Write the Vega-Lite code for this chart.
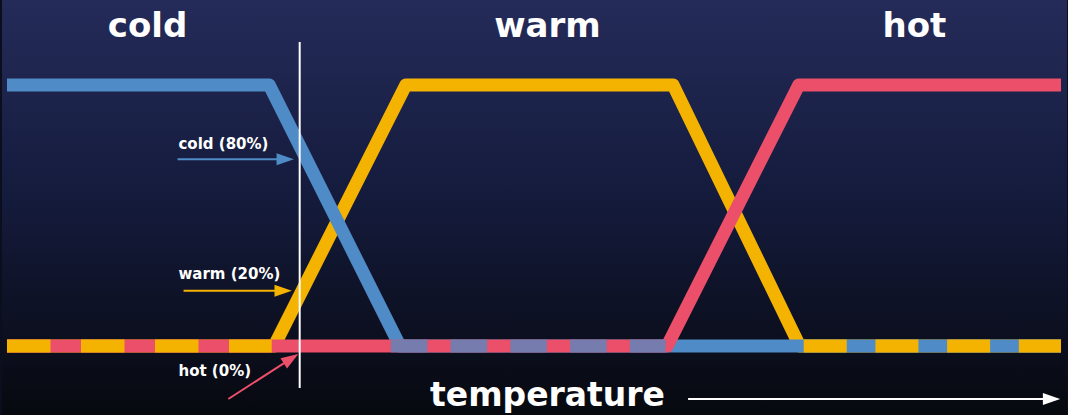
{
  "$schema": "https://vega.github.io/schema/vega-lite/v6.json",
  "width": 1068,
  "height": 415,
  "autosize": {"type": "fit", "contains": "padding"},
  "padding": 0,
  "background": "#0b0e1c",
  "config": {
    "view": {
      "stroke": null,
      "fill": {
        "gradient": "linear", "x1": 0, "y1": 0, "x2": 0, "y2": 1,
        "stops": [
          {"offset": 0, "color": "#242b59"},
          {"offset": 0.5, "color": "#141a3a"},
          {"offset": 1, "color": "#07090f"}
        ]
      }
    }
  },
  "datasets": {
    "curves": [
      {"set": "warm", "t": 0, "m": 0},
      {"set": "warm", "t": 25.35, "m": 0},
      {"set": "warm", "t": 37.84, "m": 1},
      {"set": "warm", "t": 63.2, "m": 1},
      {"set": "warm", "t": 75.21, "m": 0},
      {"set": "warm", "t": 100, "m": 0},
      {"set": "cold", "t": 0, "m": 1},
      {"set": "cold", "t": 24.88, "m": 1},
      {"set": "cold", "t": 37.28, "m": 0},
      {"set": "cold", "t": 100, "m": 0},
      {"set": "hot", "t": 0, "m": 0},
      {"set": "hot", "t": 62.63, "m": 0},
      {"set": "hot", "t": 75.12, "m": 1},
      {"set": "hot", "t": 100, "m": 1}
    ],
    "overlaps": [
      {"region": 1, "set": "warm", "t": 0, "t2": 25.12, "m": 0},
      {"region": 2, "set": "cold", "t": 36.42, "t2": 62.49, "m": 0},
      {"region": 3, "set": "warm", "t": 75.59, "t2": 100, "m": 0}
    ],
    "titles": [
      {"label": "cold", "t": 13.34, "m": 1.1839},
      {"label": "warm", "t": 51.28, "m": 1.1839},
      {"label": "hot", "t": 86.09, "m": 1.1839}
    ],
    "notes": [
      {"label": "cold (80%)", "t": 16.27, "m": 0.7548},
      {"label": "warm (20%)", "t": 16.27, "m": 0.2555},
      {"label": "hot (0%)", "t": 16.27, "m": -0.1149}
    ],
    "arrows": [
      {"set": "cold", "t": 16.18, "m": 0.7153, "t2": 26.4, "m2": 0.7153, "ang": 0},
      {"set": "warm", "t": 16.75, "m": 0.2119, "t2": 26.2, "m2": 0.2119, "ang": 0},
      {"set": "hot", "t": 21.0, "m": -0.2031, "t2": 26.95, "m2": -0.0483, "ang": -32.7},
      {"set": "axis", "t": 64.62, "m": -0.2031, "t2": 99.1, "m2": -0.2031, "ang": 0}
    ]
  },
  "encoding": {
    "x": {"field": "t", "type": "quantitative", "axis": null,
          "scale": {"domain": [-0.473, 100.568], "nice": false, "zero": false}},
    "y": {"field": "m", "type": "quantitative", "axis": null,
          "scale": {"domain": [-0.2644, 1.3257], "nice": false, "zero": false}}
  },
  "layer": [
    {
      "data": {"name": "curves"},
      "transform": [{"filter": "datum.set === 'warm'"}],
      "mark": {"type": "line", "color": "#f4b301", "strokeWidth": 13, "strokeJoin": "round", "strokeCap": "butt", "clip": false}
    },
    {
      "data": {"name": "curves"},
      "transform": [{"filter": "datum.set === 'cold'"}],
      "mark": {"type": "line", "color": "#4f8bc6", "strokeWidth": 13, "strokeJoin": "round", "strokeCap": "butt", "clip": false}
    },
    {
      "data": {"name": "curves"},
      "transform": [{"filter": "datum.set === 'hot'"}],
      "mark": {"type": "line", "color": "#eb4f69", "strokeWidth": 13, "strokeJoin": "round", "strokeCap": "butt", "clip": false}
    },
    {
      "data": {"name": "overlaps"},
      "transform": [{"filter": "datum.region === 1"}],
      "mark": {"type": "rule", "color": "#f4b301", "strokeWidth": 13, "strokeCap": "butt", "strokeDash": [43.5, 30.5]},
      "encoding": {"x2": {"field": "t2"}}
    },
    {
      "data": {"name": "overlaps"},
      "transform": [{"filter": "datum.region === 2"}],
      "mark": {"type": "rule", "color": "#4f8bc6", "opacity": 0.75, "strokeWidth": 13, "strokeCap": "butt", "strokeDash": [36.5, 23.25]},
      "encoding": {"x2": {"field": "t2"}}
    },
    {
      "data": {"name": "overlaps"},
      "transform": [{"filter": "datum.region === 3"}],
      "mark": {"type": "rule", "color": "#f4b301", "strokeWidth": 13, "strokeCap": "butt", "strokeDash": [43, 28.7]},
      "encoding": {"x2": {"field": "t2"}}
    },
    {
      "data": {"values": [{"t": 27.77, "m": 1.1648, "m2": -0.161}]},
      "mark": {"type": "rule", "color": "#ffffff", "strokeWidth": 2},
      "encoding": {"y2": {"field": "m2"}}
    },
    {
      "data": {"name": "titles"},
      "mark": {"type": "text", "color": "#ffffff", "font": "DejaVu Sans", "fontWeight": "bold", "fontSize": 34, "align": "center", "baseline": "alphabetic"},
      "encoding": {"text": {"field": "label"}}
    },
    {
      "data": {"values": [{"label": "temperature", "t": 51.28, "m": -0.2299}]},
      "mark": {"type": "text", "color": "#ffffff", "font": "DejaVu Sans", "fontWeight": "bold", "fontSize": 33, "align": "center", "baseline": "alphabetic"},
      "encoding": {"text": {"field": "label"}}
    },
    {
      "data": {"name": "notes"},
      "mark": {"type": "text", "color": "#ffffff", "font": "DejaVu Sans", "fontWeight": "bold", "fontSize": 15, "align": "left", "baseline": "alphabetic"},
      "encoding": {"text": {"field": "label"}}
    },
    {
      "data": {"name": "arrows"},
      "mark": {"type": "rule", "strokeWidth": 2},
      "encoding": {
        "x2": {"field": "t2"},
        "y2": {"field": "m2"},
        "color": {"field": "set", "type": "nominal", "legend": null,
                  "scale": {"domain": ["cold", "warm", "hot", "axis"], "range": ["#4f8bc6", "#f4b301", "#eb4f69", "#ffffff"]}}
      }
    },
    {
      "data": {"name": "arrows"},
      "mark": {"type": "point", "shape": "M-1,-0.7L1,0L-1,0.7Z", "filled": true, "opacity": 1, "size": 300, "strokeWidth": 0},
      "encoding": {
        "x": {"field": "t2", "type": "quantitative"},
        "y": {"field": "m2", "type": "quantitative"},
        "angle": {"field": "ang", "type": "quantitative", "scale": null},
        "color": {"field": "set", "type": "nominal", "legend": null}
      }
    }
  ]
}
